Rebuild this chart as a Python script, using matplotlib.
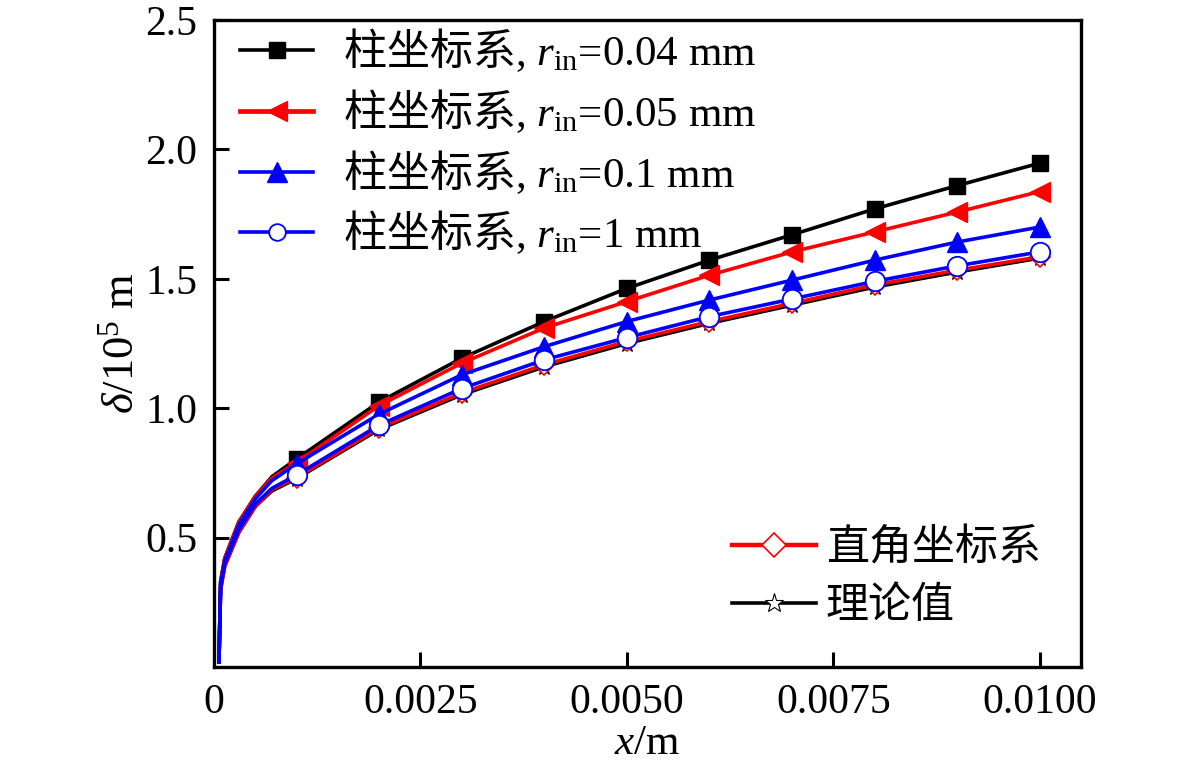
import matplotlib
matplotlib.use("Agg")
import matplotlib.pyplot as plt
from matplotlib.lines import Line2D

plt.rcParams['font.family'] = ['Liberation Serif', 'Noto Sans CJK SC']
plt.rcParams['mathtext.fontset'] = 'custom'
plt.rcParams['mathtext.rm'] = 'Noto Sans CJK SC'
plt.rcParams['mathtext.it'] = 'Liberation Serif:italic'
plt.rcParams['mathtext.sf'] = 'Liberation Serif'

# ---- data ----
x = [0.00006, 0.00008, 0.00013, 0.0003, 0.0005, 0.0007,
     0.001, 0.002, 0.003, 0.004, 0.005, 0.006, 0.007, 0.008, 0.009, 0.010]
mark_idx = [6, 7, 8, 9, 10, 11, 12, 13, 14, 15]

y_r004 = [0.02, 0.33, 0.42, 0.56, 0.66, 0.735, 0.804, 1.024, 1.193, 1.335, 1.463, 1.572, 1.670, 1.770, 1.860, 1.947]
y_r005 = [0.02, 0.33, 0.42, 0.56, 0.66, 0.730, 0.790, 1.010, 1.174, 1.310, 1.412, 1.514, 1.604, 1.681, 1.758, 1.837]
y_r01  = [0.02, 0.32, 0.41, 0.55, 0.65, 0.720, 0.785, 0.977, 1.129, 1.238, 1.335, 1.418, 1.495, 1.572, 1.642, 1.700]
y_r1   = [0.02, 0.31, 0.40, 0.53, 0.63, 0.690, 0.742, 0.935, 1.076, 1.187, 1.273, 1.354, 1.422, 1.490, 1.550, 1.604]
y_cart = [0.02, 0.30, 0.39, 0.52, 0.62, 0.685, 0.732, 0.924, 1.059, 1.168, 1.258, 1.335, 1.405, 1.476, 1.533, 1.585]
y_theo = [0.02, 0.30, 0.39, 0.52, 0.62, 0.680, 0.728, 0.918, 1.052, 1.160, 1.250, 1.328, 1.398, 1.468, 1.526, 1.580]

labels_cyl = [r'$\mathrm{柱坐标系}$, $r_{\mathsf{in}}$=0.04 mm',
              r'$\mathrm{柱坐标系}$, $r_{\mathsf{in}}$=0.05 mm',
              r'$\mathrm{柱坐标系}$, $r_{\mathsf{in}}$=0.1 mm',
              r'$\mathrm{柱坐标系}$, $r_{\mathsf{in}}$=1 mm']
label_cart = '直角坐标系'
label_theo = '理论值'

xticks = [0, 0.0025, 0.005, 0.0075, 0.01]
xticklabels = ['0', '0.0025', '0.0050', '0.0075', '0.0100']
yticks = [0.5, 1.0, 1.5, 2.0, 2.5]
yticklabels = ['0.5', '1.0', '1.5', '2.0', '2.5']

fig = plt.figure(figsize=(11.81, 7.77), dpi=100)
ax = fig.add_axes([214/1181, 1-667/777, 867/1181, 647/777])

lw = 2.6
ax.plot(x, y_theo, color='black', lw=lw, marker='*', ms=12, mfc='white', mec='black',
        mew=0.8, markevery=mark_idx, zorder=2)
ax.plot(x, y_cart, color='red', lw=lw, marker='D', ms=10, mfc='white', mec='red',
        mew=1.2, markevery=mark_idx, zorder=3)
ax.plot(x, y_r004, color='black', lw=lw, marker='s', ms=12, mfc='black', mec='black',
        markevery=mark_idx, zorder=4)
ax.plot(x, y_r005, color='red', lw=lw, marker='<', ms=14, mfc='red', mec='red',
        markevery=mark_idx, zorder=5)
ax.plot(x, y_r01, color='blue', lw=lw, marker='^', ms=14, mfc='blue', mec='blue',
        markevery=mark_idx, zorder=6)
ax.plot(x, y_r1, color='blue', lw=lw, marker='o', ms=14, mfc='white', mec='blue',
        mew=1.3, markevery=mark_idx, zorder=7)

ax.set_xlim(0, 0.0105)
ax.set_ylim(0, 2.5)
ax.set_xticks(xticks)
ax.set_xticklabels(xticklabels)
ax.set_yticks(yticks)
ax.set_yticklabels(yticklabels)
ax.tick_params(direction='in', length=11, width=2.2, labelsize=30, pad=12)
for s in ax.spines.values():
    s.set_linewidth(2.4)

ax.set_xlabel(r'$x$/m', fontsize=31, labelpad=2)
ax.set_ylabel(r'$\delta$/10$^{\mathsf{5}}$ m', fontsize=32, labelpad=2)

h1 = [Line2D([], [], color='black', lw=lw, marker='s', ms=12, mfc='black'),
      Line2D([], [], color='red', lw=lw + 0.8, marker='<', ms=14, mfc='red'),
      Line2D([], [], color='blue', lw=lw, marker='^', ms=14, mfc='blue'),
      Line2D([], [], color='blue', lw=lw, marker='o', ms=12, mfc='white', mec='blue', mew=1.3)]
leg1 = ax.legend(h1, labels_cyl, loc='upper left', bbox_to_anchor=(0.03, 0.99),
                 frameon=False, fontsize=31, handlelength=1.7, handletextpad=0.7,
                 labelspacing=0.3, borderaxespad=0.0, borderpad=0.0)
ax.add_artist(leg1)

h2 = [Line2D([], [], color='red', lw=lw + 0.6, marker='D', ms=12, mfc='white', mec='red', mew=1.2),
      Line2D([], [], color='black', lw=lw, marker='*', ms=14, mfc='white', mec='black', mew=0.8)]
ax.legend(h2, [label_cart, label_theo], loc='lower left', bbox_to_anchor=(0.598, 0.062),
          frameon=False, fontsize=31, handlelength=1.95, handletextpad=0.22,
          labelspacing=0.42, borderaxespad=0.0, borderpad=0.0)

fig.savefig('out.png', dpi=100)
